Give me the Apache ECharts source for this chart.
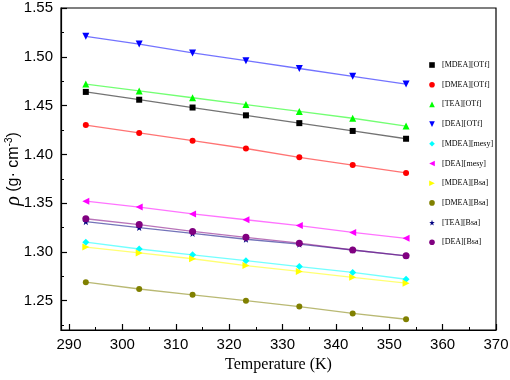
<!DOCTYPE html>
<html><head><meta charset="utf-8">
<script src="https://cdn.jsdelivr.net/npm/echarts@6/dist/echarts.min.js"></script>
<style>html,body{margin:0;padding:0;background:#fff}#c{width:510px;height:380px}</style>
</head><body><div id="c"></div>
<script>
var temperatures = [293.15, 303.15, 313.15, 323.15, 333.15, 343.15, 353.15];
var seriesNames = ['[MDEA][OTf]','[DMEA][OTf]','[TEA][OTf]','[DEA][OTf]','[MDEA][mesy]','[DEA][mesy]','[MDEA][Bsa]','[DMEA][Bsa]','[TEA][Bsa]','[DEA][Bsa]'];
var mdeaOTf  = [1.464, 1.456, 1.448, 1.440, 1.432, 1.424, 1.416];
var dmeaOTf  = [1.430, 1.422, 1.414, 1.406, 1.397, 1.389, 1.381];
var teaOTf   = [1.472, 1.465, 1.458, 1.451, 1.444, 1.437, 1.429];
var deaOTf   = [1.521, 1.513, 1.504, 1.496, 1.488, 1.480, 1.472];
var mdeaMesy = [1.310, 1.303, 1.297, 1.291, 1.285, 1.279, 1.272];
var deaMesy  = [1.352, 1.346, 1.339, 1.333, 1.327, 1.320, 1.314];
var mdeaBsa  = [1.305, 1.299, 1.293, 1.286, 1.280, 1.274, 1.268];
var dmeaBsa  = [1.269, 1.262, 1.256, 1.250, 1.244, 1.237, 1.231];
var teaBsa   = [1.331, 1.325, 1.319, 1.313, 1.308, 1.302, 1.296];
var deaBsa   = [1.334, 1.328, 1.321, 1.315, 1.309, 1.302, 1.296];
var xMajorTicks = [290, 300, 310, 320, 330, 340, 350, 360, 370];
var xMinorTicks = [295, 305, 315, 325, 335, 345, 355, 365];
var yMajorTicks = [1.25, 1.30, 1.35, 1.40, 1.45, 1.50, 1.55];
var yMinorTicks = [1.225, 1.275, 1.325, 1.375, 1.425, 1.475, 1.525];

var allValues = [mdeaOTf, dmeaOTf, teaOTf, deaOTf, mdeaMesy, deaMesy, mdeaBsa, dmeaBsa, teaBsa, deaBsa];
var colors = ['#000000','#ff0000','#00ff00','#0000ff','#00ffff','#ff00ff','#ffff00','#808000','#000080','#800080'];
var star = 'path://M0,-10L2.35,-3.24L9.51,-3.09L3.8,1.24L5.88,8.09L0,4L-5.88,8.09L-3.8,1.24L-9.51,-3.09L-2.35,-3.24Z';
var symbols = ['rect','circle','triangle','triangle','diamond','triangle','triangle','circle',star,'circle'];
var rotates = [0,0,0,180,0,90,-90,0,0,0];
var sizes = [6,6,7,7,7,7,7,6,7,7];

var series = allValues.map(function(vals, i){
  return {
    name: seriesNames[i], type: 'line', xAxisIndex: 0, yAxisIndex: 0,
    data: temperatures.map(function(t, j){ return [t, vals[j]]; }),
    symbol: symbols[i], symbolRotate: rotates[i], symbolSize: sizes[i],
    showAllSymbol: true,
    itemStyle: {color: colors[i]},
    lineStyle: {color: colors[i], width: 1.3, opacity: 0.55},
    emphasis: {disabled: true}, animation: false, z: 3
  };
});

var chart = echarts.init(document.getElementById('c'), null, {renderer: 'canvas'});
chart.setOption({
  animation: false,
  backgroundColor: '#fff',
  grid: {left: 61, right: 14, top: 8, bottom: 50, show: true, borderColor: '#000', borderWidth: 1.2,
    containLabel: false, outerBoundsMode: 'none'},
  legend: {
    orient: 'vertical', left: 421, top: 56, itemWidth: 10, itemHeight: 7, itemGap: 11.7,
    textStyle: {fontFamily: 'Liberation Serif', fontSize: 8, color: '#000'},
    lineStyle: {opacity: 0}, data: seriesNames
  },
  xAxis: [{
    type: 'value', min: 288.5, max: 370,
    name: 'Temperature (K)', nameLocation: 'middle', nameGap: 27, nameMoveOverlap: false,
    nameTextStyle: {fontFamily: 'Liberation Serif', fontSize: 16, color: '#000'},
    axisLine: {show: true, lineStyle: {color: '#000', width: 1.2}},
    axisTick: {show: true, inside: true, length: 6, customValues: xMajorTicks, lineStyle: {color: '#000', width: 1.2}},
    axisLabel: {show: true, customValues: xMajorTicks, fontFamily: 'Liberation Sans', fontSize: 15, color: '#000', margin: 7},
    splitLine: {show: false}
  }, {
    type: 'value', min: 288.5, max: 370, position: 'bottom',
    axisLine: {show: false},
    axisTick: {show: true, inside: true, length: 3, customValues: xMinorTicks, lineStyle: {color: '#000', width: 1}},
    axisLabel: {show: false}, splitLine: {show: false}
  }],
  yAxis: [{
    type: 'value', min: 1.22, max: 1.55,
    name: '{i|ρ}{n| (g· cm}{s|-3}{n|)}', nameLocation: 'middle', nameRotate: 90, nameGap: 37, nameMoveOverlap: false,
    nameTextStyle: {rich: {
      i: {fontFamily: 'Liberation Serif', fontStyle: 'italic', fontSize: 20, color: '#000'},
      n: {fontFamily: 'Liberation Sans', fontSize: 16, color: '#000'},
      s: {fontFamily: 'Liberation Sans', fontSize: 10, color: '#000', verticalAlign: 'top', padding: [0,0,8,0]}
    }},
    axisLine: {show: true, lineStyle: {color: '#000', width: 1.2}},
    axisTick: {show: true, inside: true, length: 6, customValues: yMajorTicks, lineStyle: {color: '#000', width: 1.2}},
    axisLabel: {show: true, customValues: yMajorTicks, fontFamily: 'Liberation Sans', fontSize: 15, color: '#000', margin: 8,
      formatter: function(v){ return v.toFixed(2); }},
    splitLine: {show: false}
  }, {
    type: 'value', min: 1.22, max: 1.55, position: 'left',
    axisLine: {show: false},
    axisTick: {show: true, inside: true, length: 3, customValues: yMinorTicks, lineStyle: {color: '#000', width: 1}},
    axisLabel: {show: false}, splitLine: {show: false}
  }],
  series: series
});
</script></body></html>
